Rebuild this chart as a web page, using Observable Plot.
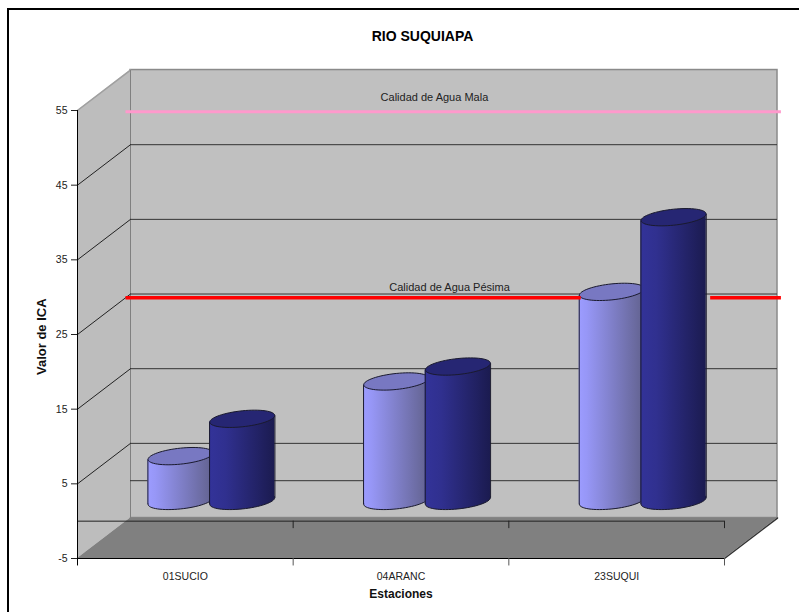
<!DOCTYPE html>
<html lang="es">
<head>
<meta charset="utf-8">
<title>RIO SUQUIAPA</title>
<script src="https://cdn.jsdelivr.net/npm/d3@7"></script>
<script src="https://cdn.jsdelivr.net/npm/@observablehq/plot@0.6"></script>
<style>
  html, body { margin: 0; padding: 0; background: #fff; overflow: hidden; }
  #frame { position: absolute; left: 7px; top: 8px; right: 0; bottom: 0; border-left: 2px solid #000; border-top: 2px solid #000; pointer-events: none; }
  svg { display: block; }
</style>
</head>
<body>
<div id="chart"></div>
<div id="frame"></div>
<script>
// ---- values ----
const chartTitle = "RIO SUQUIAPA";
const categories = ["01SUCIO", "04ARANC", "23SUQUI"];
const seriesA = [6, 16, 28];
const seriesB = [11, 18, 38];
const yTicks = [-5, 5, 15, 25, 35, 45, 55];
const yLabel = "Valor de ICA";
const xLabel = "Estaciones";
const levelLabels = ["Calidad de Agua Mala", "Calidad de Agua Pésima"];
const levelValues = [49.4, 24.5];

// ---- oblique 3D projection, expressed in data units ----
const depthX = 0.2458, depthY = 5.42;      // shift of the back wall
const yMin = -5, yMax = 55, xMax = 3;
const halfW = 0.1515, tiltV = 0.44;        // cylinder half width and top tilt
const offsetA = 0.355, offsetB = 0.641;    // cylinder position inside a category

const cylA = categories.map((c, i) => ({key: "A" + i, x: i + offsetA + depthX / 2, base: depthY / 2, top: seriesA[i] + depthY / 2}));
const cylB = categories.map((c, i) => ({key: "B" + i, x: i + offsetB + depthX / 2, base: depthY / 2, top: seriesB[i] + depthY / 2}));

// A slightly tilted ellipse, drawn as a Plot dot symbol
const ellipse = {
  draw(ctx) {
    const a = 32.5, b = 8, t = -3.3, n = 64;
    for (let i = 0; i <= n; ++i) {
      const th = 2 * Math.PI * i / n;
      const x = a * Math.cos(th), y = b * Math.sin(th) + t * Math.cos(th);
      i ? ctx.lineTo(x, y) : ctx.moveTo(x, y);
    }
    ctx.closePath();
  }
};

function gradient(defs, id, stops) {
  const g = defs.append("linearGradient").attr("id", id).attr("x1", 0).attr("x2", 1).attr("y1", 0).attr("y2", 0);
  stops.forEach(([o, c]) => g.append("stop").attr("offset", o).attr("stop-color", c));
}
const gradients = () => {
  const defs = d3.create("svg:defs");
  gradient(defs, "lightCyl", [[0, "#9c9cff"], [0.12, "#9797f7"], [1, "#62628f"]]);
  gradient(defs, "darkCyl", [[0, "#333399"], [0.25, "#30308f"], [1, "#1b1b50"]]);
  return defs.node();
};

function cylinderMarks(data, fillUrl, topFill) {
  const bodyPts = data.flatMap(d => [
    {key: d.key, x: d.x - halfW, y1: d.base - tiltV, y2: d.top - tiltV},
    {key: d.key, x: d.x + halfW, y1: d.base + tiltV, y2: d.top + tiltV}
  ]);
  return [
    Plot.dot(data, {x: "x", y: "base", symbol: ellipse, fill: fillUrl, stroke: "#1a1a2e", strokeWidth: 1}),
    Plot.areaY(bodyPts, {x: "x", y1: "y1", y2: "y2", z: "key", fill: fillUrl}),
    Plot.link(bodyPts, {x1: "x", x2: "x", y1: "y1", y2: "y2", stroke: "#1a1a2e", strokeWidth: 1}),
    Plot.dot(data, {x: "x", y: "top", symbol: ellipse, fill: topFill, stroke: "#1a1a2e", strokeWidth: 1})
  ];
}

const backTicks = yTicks.slice(1);
const leftWall = [
  {x: 0, y1: yMin, y2: yMax},
  {x: depthX, y1: yMin + depthY, y2: yMax + depthY}
];
const floor = [
  {x: 0, y1: yMin, y2: yMin},
  {x: depthX, y1: yMin, y2: yMin + depthY},
  {x: xMax, y1: yMin, y2: yMin + depthY},
  {x: xMax + depthX, y1: yMin + depthY, y2: yMin + depthY}
];

const chart = Plot.plot({
  width: 799,
  height: 612,
  marginLeft: 77,
  marginRight: 75,
  marginTop: 110,
  marginBottom: 54,
  x: {domain: [0, xMax], axis: null},
  y: {domain: [yMin, yMax], axis: null},
  style: {fontFamily: "'Liberation Sans', Arial, sans-serif", fontSize: "10.5px", background: "#fff", color: "#222", overflow: "visible"},
  marks: [
    gradients,
    // walls and floor
    Plot.rect([0], {x1: depthX, x2: xMax + depthX, y1: yMin + depthY, y2: yMax + depthY, fill: "#c0c0c0", stroke: "#8a8a8a", strokeWidth: 1.5}),
    Plot.areaY(leftWall, {x: "x", y1: "y1", y2: "y2", fill: "#bdbdbd"}),
    Plot.line(leftWall, {x: "x", y: "y2", stroke: "#a0a0a0"}),
    Plot.link([0], {x1: depthX, x2: depthX, y1: yMin + depthY, y2: yMax + depthY, stroke: "#808080"}),
    // back wall grid and its zero line
    Plot.ruleY(backTicks.slice(0, -1).concat([0]), {y: d => d + depthY, x1: depthX, x2: xMax + depthX, stroke: "#333"}),
    // side wall grid
    Plot.link(backTicks.slice(0, -1), {x1: 0, x2: depthX, y1: d => d, y2: d => d + depthY, stroke: "#222"}),
    Plot.areaY(floor, {x: "x", y1: "y1", y2: "y2", fill: "#808080"}),
    Plot.line(floor.slice(2), {x: "x", y: "y1", stroke: "#333"}),
    // front baseline at zero, with its ticks
    Plot.ruleY([0], {x1: 0, x2: xMax, stroke: "#222"}),
    Plot.ruleX([1, 2, 3], {y1: 0, y2: -1, stroke: "#222"}),
    // quality level labels and the pink line
    Plot.ruleY([levelValues[0]], {y: d => d + depthY, x1: -0.021 + depthX, x2: 3.018 + depthX, stroke: "#ff99cc", strokeWidth: 3}),
    Plot.text([levelLabels[0]], {x: 1.655, y: 56.7, text: d => d, fill: "#222", fontSize: 11}),
    Plot.text([levelLabels[1]], {x: 1.725, y: 31.3, text: d => d, fill: "#222", fontSize: 11}),
    // cylinders
    ...cylinderMarks(cylA, "url(#lightCyl)", "#7878c2"),
    ...cylinderMarks(cylB, "url(#darkCyl)", "#262673"),
    // red line, interrupted by the tallest cylinders
    Plot.ruleY([levelValues[1]], {y: d => d + depthY, x1: -0.021 + depthX, x2: 2.09 + depthX, stroke: "#ff0000", strokeWidth: 3.5}),
    Plot.ruleY([levelValues[1]], {y: d => d + depthY, x1: 2.69 + depthX, x2: 3.018 + depthX, stroke: "#ff0000", strokeWidth: 3.5}),
    // axes
    Plot.ruleY([yMin], {x1: 0, x2: xMax, stroke: "#000"}),
    Plot.ruleX([0], {y1: yMin - 1, y2: yMax, stroke: "#000"}),
    Plot.ruleX([1, 2, 3], {y1: yMin, y2: yMin - 1, stroke: "#555"}),
    Plot.axisY({ticks: yTicks, tickSize: 6, tickPadding: 4, label: null, anchor: "left", tickFormat: d => String(d)}),
    Plot.axisX({ticks: categories.map((c, i) => i + 0.5), tickSize: 0, tickPadding: 14, label: null, anchor: "bottom", tickFormat: d => categories[Math.floor(d)]}),
    // titles
    Plot.text([chartTitle], {x: 1.6, y: 64.9, text: d => d, fontWeight: "bold", fontSize: 14, fill: "#000"}),
    Plot.text([xLabel], {x: 1.5, y: -9.82, text: d => d, fontWeight: "bold", fontSize: 12, fill: "#111"}),
    Plot.text([yLabel], {x: -0.167, y: 24.7, text: d => d, rotate: -90, fontWeight: "bold", fontSize: 13, fill: "#111"})
  ]
});
document.getElementById("chart").append(chart);
</script>
</body>
</html>
